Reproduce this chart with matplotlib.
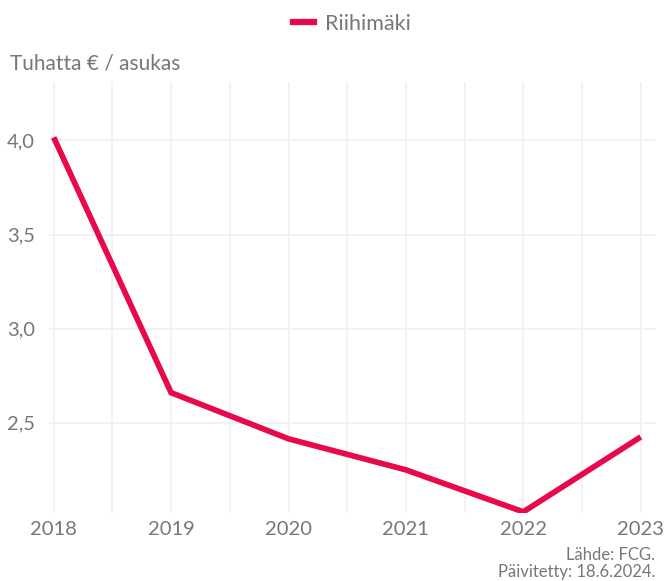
import matplotlib.pyplot as plt
from matplotlib.lines import Line2D

# data
years = [2018, 2019, 2020, 2021, 2022, 2023]
values = [4.016, 2.66, 2.415, 2.25, 2.027, 2.425]
series_name = "Riihimäki"
y_ticks = [2.5, 3.0, 3.5, 4.0]
y_labels = ["2,5", "3,0", "3,5", "4,0"]

line_color = "#e8084c"
text_color = "#777777"
grid_color = "#f0f0f0"

plt.rcParams['font.family'] = ['Lato', 'DejaVu Sans']

fig = plt.figure(figsize=(6.68, 5.81), dpi=100)
ax = fig.add_axes([49/668, 68/581, 607/668, 431/581])

ax.plot(years, values, color=line_color, linewidth=4.1, solid_capstyle='butt',
        solid_joinstyle='miter', zorder=3)

ax.set_xlim(2017.96, 2023.13)
ax.set_ylim(2.021, 4.31)

ax.set_xticks(years)
ax.set_xticklabels([str(y) for y in years])
ax.set_xticks([y + 0.5 for y in years[:-1]], minor=True)
ax.set_yticks(y_ticks)
ax.set_yticklabels(y_labels)

ax.grid(True, which='both', axis='x', color=grid_color, linewidth=1.2)
ax.grid(True, which='major', axis='y', color=grid_color, linewidth=1.2)
ax.set_axisbelow(True)

for s in ax.spines.values():
    s.set_visible(False)
ax.tick_params(axis='both', which='both', length=0, labelsize=14.5, labelcolor=text_color)
ax.tick_params(axis='x', pad=6)
ax.tick_params(axis='y', pad=10)

fig.text(10/668, 1 - 64/581, "Tuhatta € / asukas", fontsize=15, color=text_color,
         ha='left', va='center')

handle = Line2D([], [], color=line_color, linewidth=4.5)
fig.legend([handle], [series_name], loc='center', bbox_to_anchor=(352/668, 1 - 24/581),
           frameon=False, fontsize=15.5, labelcolor=text_color, handlelength=0.95,
           handletextpad=0.5)

fig.text(655/668, 1 - 555/581, "Lähde: FCG.", fontsize=12, color=text_color,
         ha='right', va='center')
fig.text(655/668, 1 - 572/581, "Päivitetty: 18.6.2024.", fontsize=12, color=text_color,
         ha='right', va='center')

fig.savefig("out.png", dpi=100)
